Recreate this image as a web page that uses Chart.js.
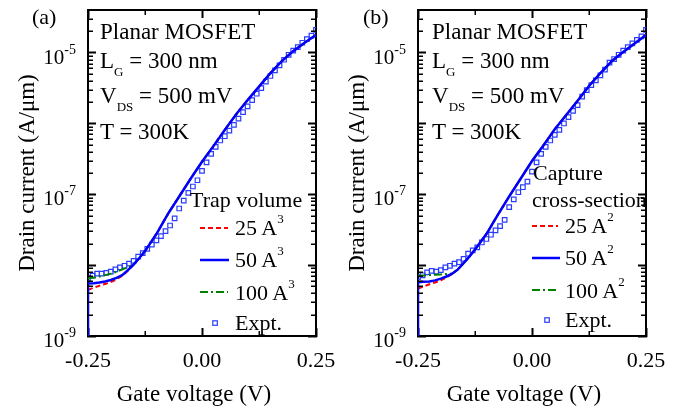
<!DOCTYPE html>
<html>
<head>
<meta charset="utf-8">
<script src="https://cdn.jsdelivr.net/npm/chart.js@4.4.1/dist/chart.umd.min.js"></script>
<style>
  html, body { margin: 0; padding: 0; background: #fff; }
  #wrap { position: relative; width: 697px; height: 409px; overflow: hidden; }
  canvas { position: absolute; top: 0; }
  #ov { position: absolute; left: 0; top: 0; pointer-events: none; white-space: pre; }
</style>
</head>
<body>
<div id="wrap">
  <canvas id="cA" width="348" height="409" style="left:0"></canvas>
  <canvas id="cB" width="349" height="409" style="left:348px"></canvas>
  <svg id="ov" width="697" height="409" xml:space="preserve" font-family="Liberation Serif, Times New Roman, serif" fill="#000">
    <!-- panel (a) -->
    <text x="32" y="24" font-size="22">(a)</text>
    <text x="100" y="39" font-size="23">Planar MOSFET</text>
    <text x="100" y="68" font-size="23">L<tspan font-size="13" dy="8">G</tspan><tspan dy="-8"> = 300 nm</tspan></text>
    <text x="100" y="103" font-size="23">V<tspan font-size="13" dy="8">DS</tspan><tspan dy="-8"> = 500 mV</tspan></text>
    <text x="100" y="139" font-size="23">T = 300K</text>
    <text x="190" y="207" font-size="22">Trap volume</text>
    <line x1="200" y1="228" x2="228" y2="228" stroke="#ff0000" stroke-width="2" stroke-dasharray="5,3"/>
    <text x="235" y="235" font-size="22">25 A<tspan font-size="13" dy="-12">3</tspan></text>
    <line x1="200" y1="260" x2="229" y2="260" stroke="#0000ff" stroke-width="2.5"/>
    <text x="235" y="267" font-size="22">50 A<tspan font-size="13" dy="-12">3</tspan></text>
    <line x1="200" y1="292" x2="228" y2="292" stroke="#008000" stroke-width="2" stroke-dasharray="8,3,2,3"/>
    <text x="235" y="300" font-size="22">100 A<tspan font-size="13" dy="-12">3</tspan></text>
    <rect x="212.8" y="320.8" width="4.5" height="4.5" fill="none" stroke="rgb(40,60,255)" stroke-width="1.2"/>
    <text x="235" y="330" font-size="22">Expt.</text>
    <text x="194" y="401" font-size="23" text-anchor="middle">Gate voltage (V)</text>
    <text transform="translate(34,173) rotate(-90)" font-size="23" text-anchor="middle">Drain current (A/μm)</text>

    <!-- panel (b) -->
    <text x="363" y="24" font-size="22">(b)</text>
    <text x="432" y="39" font-size="23">Planar MOSFET</text>
    <text x="432" y="68" font-size="23">L<tspan font-size="13" dy="8">G</tspan><tspan dy="-8"> = 300 nm</tspan></text>
    <text x="432" y="103" font-size="23">V<tspan font-size="13" dy="8">DS</tspan><tspan dy="-8"> = 500 mV</tspan></text>
    <text x="432" y="139" font-size="23">T = 300K</text>
    <text x="533" y="180" font-size="22">Capture</text>
    <text x="532" y="207" font-size="22">cross-section</text>
    <line x1="532" y1="226" x2="558" y2="226" stroke="#ff0000" stroke-width="2" stroke-dasharray="5,3"/>
    <text x="565" y="233" font-size="22">25 A<tspan font-size="13" dy="-12">2</tspan></text>
    <line x1="532" y1="258" x2="560" y2="258" stroke="#0000ff" stroke-width="2.5"/>
    <text x="565" y="265" font-size="22">50 A<tspan font-size="13" dy="-12">2</tspan></text>
    <line x1="532" y1="290" x2="558" y2="290" stroke="#008000" stroke-width="2" stroke-dasharray="8,3,2,3"/>
    <text x="565" y="298" font-size="22">100 A<tspan font-size="13" dy="-12">2</tspan></text>
    <rect x="544.8" y="317.8" width="4.5" height="4.5" fill="none" stroke="rgb(40,60,255)" stroke-width="1.2"/>
    <text x="565" y="327" font-size="22">Expt.</text>
    <text x="524" y="401" font-size="23" text-anchor="middle">Gate voltage (V)</text>
    <text transform="translate(364,173) rotate(-90)" font-size="23" text-anchor="middle">Drain current (A/μm)</text>
  </svg>
</div>
<script>
// ---------------- data ----------------
const X_MIN = -0.25, X_MAX = 0.25;
const Y_MIN = 1e-9, Y_MAX = 4e-5;
const X_TICK_VALUES = [-0.25, 0, 0.25];
const X_TICK_LABELS = ['-0.25', '0.00', '0.25'];
const X_MINOR_TICKS = [-0.125, 0.125];
const Y_LABEL_VALUES = [1e-9, 1e-7, 1e-5];
const Y_LABEL_EXPONENTS = ['-9', '-7', '-5'];
const Y_DECADES = [1e-9, 1e-8, 1e-7, 1e-6, 1e-5];
const Y_MINOR_MANTISSAS = [2, 3, 4, 5, 6, 7, 8, 9];

// experimental gate voltages (V)
const EXPT_V = [-0.25,-0.24,-0.23,-0.22,-0.21,-0.20,-0.19,-0.18,-0.17,-0.16,
  -0.15,-0.14,-0.13,-0.12,-0.11,-0.10,-0.09,-0.08,-0.07,-0.06,
  -0.05,-0.04,-0.03,-0.02,-0.01,0.00,0.01,0.02,0.03,0.04,
  0.05,0.06,0.07,0.08,0.09,0.10,0.11,0.12,0.13,0.14,
  0.15,0.16,0.17,0.18,0.19,0.20,0.21,0.22,0.23,0.24,0.25];

// panel (a) experimental drain current (A/um)
const A_EXPT = [6.5e-9,7.1e-9,7.6e-9,7.6e-9,7.8e-9,8.1e-9,8.7e-9,9.3e-9,9.8e-9,1.05e-8,
  1.15e-8,1.32e-8,1.48e-8,1.70e-8,1.95e-8,2.24e-8,2.57e-8,3.02e-8,3.63e-8,4.57e-8,
  6.31e-8,8.13e-8,1.05e-7,1.29e-7,1.58e-7,2.14e-7,2.82e-7,3.72e-7,4.68e-7,5.75e-7,
  6.61e-7,7.94e-7,9.55e-7,1.17e-6,1.45e-6,1.74e-6,2.14e-6,2.63e-6,3.16e-6,3.89e-6,
  4.68e-6,5.62e-6,6.61e-6,7.94e-6,9.33e-6,1.07e-5,1.20e-5,1.38e-5,1.55e-5,1.74e-5,2.09e-5];

// panel (b) experimental drain current (A/um)
const B_EXPT = [6.8e-9,7.2e-9,7.9e-9,8.3e-9,8.1e-9,8.5e-9,9.3e-9,9.8e-9,1.05e-8,1.10e-8,
  1.23e-8,1.45e-8,1.62e-8,1.78e-8,2.09e-8,2.34e-8,2.69e-8,3.09e-8,3.55e-8,4.37e-8,
  6.61e-8,8.51e-8,1.07e-7,1.26e-7,1.51e-7,2.09e-7,2.82e-7,3.72e-7,4.68e-7,5.75e-7,
  6.92e-7,8.13e-7,1.0e-6,1.23e-6,1.51e-6,1.82e-6,2.40e-6,2.95e-6,3.47e-6,4.07e-6,
  4.79e-6,5.75e-6,7.24e-6,8.13e-6,9.33e-6,1.07e-5,1.20e-5,1.35e-5,1.51e-5,1.70e-5,2.09e-5];

// simulation gate voltages (V)
const SIM_V = [-0.25,-0.2375,-0.225,-0.2125,-0.2,-0.1875,-0.175,-0.1625,-0.15,-0.1375,
  -0.125,-0.1,-0.075,-0.05,-0.025,0,0.025,0.05,0.075,0.1,0.125,0.15,0.175,0.2,0.225,0.25];
const SIM_DROP_V = -0.25, SIM_DROP_I = 1e-10;

// panel (a): trap volume 25 / 50 / 100 A^3
const A_25 = [4.47e-9,4.79e-9,5.13e-9,5.43e-9,5.75e-9,6.31e-9,7.08e-9,8.32e-9,1.02e-8,1.26e-8,
  1.58e-8,2.75e-8,5.25e-8,9.33e-8,1.66e-7,2.88e-7,4.79e-7,8.13e-7,1.35e-6,2.14e-6,
  3.31e-6,5.13e-6,7.59e-6,1.05e-5,1.38e-5,1.78e-5];
const A_50 = [5.50e-9,5.56e-9,5.69e-9,5.89e-9,6.17e-9,6.61e-9,7.24e-9,8.51e-9,1.02e-8,1.26e-8,
  1.58e-8,2.75e-8,5.25e-8,9.33e-8,1.66e-7,2.88e-7,4.79e-7,8.13e-7,1.35e-6,2.14e-6,
  3.31e-6,5.13e-6,7.59e-6,1.05e-5,1.38e-5,1.78e-5];
const A_100 = [6.46e-9,6.68e-9,6.92e-9,7.24e-9,7.59e-9,8.04e-9,8.71e-9,9.33e-9,1.02e-8,1.26e-8,
  1.58e-8,2.75e-8,5.25e-8,9.33e-8,1.66e-7,2.88e-7,4.79e-7,8.13e-7,1.35e-6,2.14e-6,
  3.31e-6,5.13e-6,7.59e-6,1.05e-5,1.38e-5,1.78e-5];

// panel (b): capture cross-section 25 / 50 / 100 A^2
const B_25 = [4.68e-9,5.01e-9,5.37e-9,5.69e-9,6.10e-9,6.76e-9,7.50e-9,8.71e-9,1.07e-8,1.32e-8,
  1.66e-8,2.75e-8,5.13e-8,9.33e-8,1.66e-7,2.95e-7,4.90e-7,8.32e-7,1.32e-6,2.09e-6,
  3.39e-6,5.13e-6,7.59e-6,1.02e-5,1.35e-5,1.78e-5];
const B_50 = [5.75e-9,5.82e-9,5.89e-9,6.10e-9,6.46e-9,6.92e-9,7.59e-9,8.71e-9,1.07e-8,1.32e-8,
  1.66e-8,2.75e-8,5.13e-8,9.33e-8,1.66e-7,2.95e-7,4.90e-7,8.32e-7,1.32e-6,2.09e-6,
  3.39e-6,5.13e-6,7.59e-6,1.02e-5,1.35e-5,1.78e-5];
const B_100 = [7.08e-9,7.16e-9,7.24e-9,7.33e-9,7.41e-9,7.50e-9,7.59e-9,8.71e-9,1.07e-8,1.32e-8,
  1.66e-8,2.75e-8,5.13e-8,9.33e-8,1.66e-7,2.95e-7,4.90e-7,8.32e-7,1.32e-6,2.09e-6,
  3.39e-6,5.13e-6,7.59e-6,1.02e-5,1.35e-5,1.78e-5];

// ---------------- helpers ----------------
const FONT = '"Liberation Serif", "Times New Roman", serif';
function pts(xs, ys) { return xs.map((x, i) => ({ x: x, y: ys[i] })); }

function axis(kind, position, extra) {
  return Object.assign({
    type: kind,
    position: position,
    display: true,
    ticks: { display: false },
    grid: {
      display: true, drawOnChartArea: false, drawTicks: true,
      tickLength: -8, tickWidth: 2, tickColor: '#000'
    },
    border: { display: true, color: '#000', width: 2 },
    afterFit: function (s) { if (s.isHorizontal()) s.height = 0; else s.width = 0; }
  }, extra);
}
function xAxis(position) {
  return axis('linear', position, {
    min: X_MIN, max: X_MAX,
    ticks: { display: false, stepSize: 0.25 }
  });
}
function yAxis(position) {
  return axis('logarithmic', position, {
    min: Y_MIN, max: Y_MAX,
    afterBuildTicks: function (s) { s.ticks = Y_DECADES.map(v => ({ value: v })); }
  });
}

// minor ticks + tick labels, placed with the chart's own scales
const axisDecorPlugin = {
  id: 'axisDecor',
  afterDraw(chart) {
    const ctx = chart.ctx, xs = chart.scales.x, ys = chart.scales.y, ca = chart.chartArea;
    ctx.save();
    // minor ticks
    ctx.strokeStyle = '#000';
    ctx.lineWidth = 1.5;
    ctx.beginPath();
    const minorLen = 5;
    Y_DECADES.forEach(d => Y_MINOR_MANTISSAS.forEach(m => {
      const v = m * d;
      if (v >= Y_MAX) return;
      const y = Math.round(ys.getPixelForValue(v)) + 0.25;
      ctx.moveTo(ca.left, y); ctx.lineTo(ca.left + minorLen, y);
      ctx.moveTo(ca.right, y); ctx.lineTo(ca.right - minorLen, y);
    }));
    X_MINOR_TICKS.forEach(v => {
      const x = Math.round(xs.getPixelForValue(v)) + 0.25;
      ctx.moveTo(x, ca.bottom); ctx.lineTo(x, ca.bottom - minorLen);
      ctx.moveTo(x, ca.top); ctx.lineTo(x, ca.top + minorLen);
    });
    ctx.stroke();

    // tick labels
    ctx.fillStyle = '#000';
    ctx.textBaseline = 'alphabetic';
    ctx.font = '22px ' + FONT;
    ctx.textAlign = 'center';
    X_TICK_VALUES.forEach((v, i) => ctx.fillText(X_TICK_LABELS[i], xs.getPixelForValue(v), ca.bottom + 31));
    Y_LABEL_VALUES.forEach((v, i) => {
      const y = ys.getPixelForValue(v);
      const right = ca.left - 12;
      ctx.font = '14px ' + FONT;
      const sup = Y_LABEL_EXPONENTS[i];
      const w = ctx.measureText(sup).width;
      ctx.textAlign = 'left';
      ctx.fillText(sup, right - w, y + 1);
      ctx.font = '21px ' + FONT;
      ctx.textAlign = 'right';
      ctx.fillText('10', right - w, y + 11);
    });
    ctx.restore();
  }
};

function makeChart(id, padLeft, padRight, s25, s50, s100, expt) {
  const lineDs = (label, data, color, width, dash, order) => ({
    label, data, showLine: true, borderColor: color, borderWidth: width, borderDash: dash,
    pointRadius: 0, fill: false, order: order, xAxisID: 'x', yAxisID: 'y'
  });
  return new Chart(document.getElementById(id), {
    type: 'scatter',
    data: {
      datasets: [
        lineDs('25', pts(SIM_V, s25), '#ff0000', 2, [5, 3], 1),
        lineDs('50', [{ x: SIM_DROP_V, y: SIM_DROP_I }].concat(pts(SIM_V, s50)), '#0000ff', 2.5, [], 0),
        lineDs('100', pts(SIM_V, s100), '#008000', 2, [8, 3, 2, 3], 2),
        {
          label: 'Expt.', data: pts(EXPT_V, expt), showLine: false,
          pointStyle: 'rect', pointRadius: 3.2, pointBorderWidth: 1.2,
          pointBorderColor: 'rgb(40,60,255)', pointBackgroundColor: 'rgba(0,0,0,0)',
          order: 3, xAxisID: 'x', yAxisID: 'y'
        }
      ]
    },
    options: {
      responsive: false, animation: false, devicePixelRatio: 1,
      layout: { padding: { left: padLeft, right: padRight, top: 10, bottom: 73 } },
      plugins: { legend: { display: false }, tooltip: { enabled: false } },
      scales: {
        x: xAxis('bottom'),
        xt: xAxis('top'),
        y: yAxis('left'),
        yr: yAxis('right')
      }
    },
    plugins: [axisDecorPlugin]
  });
}

makeChart('cA', 88, 32, A_25, A_50, A_100, A_EXPT);
makeChart('cB', 70, 51, B_25, B_50, B_100, B_EXPT);
</script>
</body>
</html>
